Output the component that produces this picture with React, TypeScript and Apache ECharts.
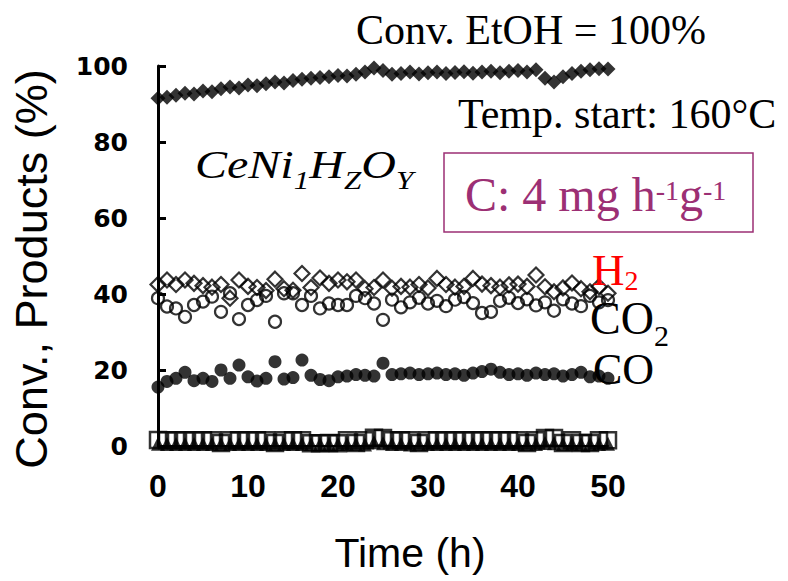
import React, { useEffect, useRef } from "react";
import * as echarts from "echarts";

// Time on stream (h)
const hours = [
  0, 1, 2, 3, 4, 5, 6, 7, 8, 9, 10, 11, 12, 13, 14, 15, 16, 17, 18, 19, 20,
  21, 22, 23, 24, 25, 26, 27, 28, 29, 30, 31, 32, 33, 34, 35, 36, 37, 38, 39,
  40, 41, 42, 43, 44, 45, 46, 47, 48, 49, 50,
];

// Ethanol conversion (%)
const conversion = [
  91.5, 91.8, 92.3, 92.8, 92.6, 93.4, 93.2, 94.0, 94.5, 94.2, 95.0, 94.8, 95.3,
  95.8, 95.5, 96.2, 96.5, 96.8, 97.0, 97.2, 97.5, 97.4, 97.8, 98.4, 99.5, 98.8,
  97.8, 98.0, 98.4, 97.9, 98.2, 98.4, 98.0, 98.3, 98.5, 98.1, 98.4, 98.6, 98.2,
  98.6, 98.8, 98.4, 99.0, 96.8, 95.8, 97.2, 98.0, 98.6, 99.0, 99.3, 99.2,
];

// H2 in products (%)
const h2 = [
  42.5, 43.7, 42.5, 43.7, 42.8, 42.2, 41.8, 42.5, 38.9, 43.7, 42.0, 41.7, 40.9,
  43.9, 41.4, 41.0, 45.4, 41.7, 44.2, 42.8, 43.7, 43.2, 43.7, 41.4, 41.7, 43.7,
  41.5, 42.0, 41.8, 42.5, 41.6, 44.1, 42.5, 41.8, 42.0, 44.1, 42.6, 42.2, 41.8,
  42.4, 42.6, 42.0, 45.0, 41.9, 40.6, 41.6, 42.9, 41.4, 40.6, 41.9, 40.2,
];

// CO2 in products (%)
const co2 = [
  38.9, 36.7, 36.2, 34.0, 37.1, 38.0, 39.3, 35.3, 40.2, 33.4, 37.1, 38.4, 39.5,
  32.7, 40.2, 40.2, 37.1, 39.5, 36.2, 37.5, 37.1, 37.1, 39.5, 38.9, 37.5, 33.2,
  38.5, 36.5, 37.8, 39.0, 37.5, 38.2, 36.8, 38.5, 39.2, 37.6, 35.0, 35.3, 38.2,
  39.0, 37.6, 38.6, 37.0, 37.8, 35.6, 38.6, 37.5, 36.8, 39.5, 37.8, 38.4,
];

// CO in products (%)
const co = [
  15.5, 17.0, 17.8, 19.4, 17.2, 17.8, 17.0, 20.0, 17.8, 21.3, 18.2, 17.1, 17.8,
  22.2, 17.6, 18.0, 22.6, 18.6, 17.5, 17.2, 18.2, 18.4, 18.8, 18.6, 18.4, 21.8,
  18.8, 19.0, 19.2, 18.8, 19.0, 19.2, 18.8, 19.0, 18.6, 19.2, 19.6, 20.2, 19.4,
  18.8, 19.0, 18.6, 19.2, 18.8, 19.0, 18.4, 18.8, 19.4, 18.2, 18.4, 17.8,
];

// Minor products near zero (%)
const minorA = [
  1.6, 1.5, 1.5, 1.5, 1.5, 1.5, 1.5, 0.8, 1.5, 1.5, 1.5, 1.5, 1.5, 0.8, 1.5,
  1.5, 1.5, 0.7, 0.7, 0.8, 0.7, 1.5, 0.8, 1.5, 2.2, 2.1, 1.5, 1.5, 1.5, 0.8,
  1.5, 1.5, 1.5, 1.5, 1.5, 1.5, 1.5, 1.5, 1.5, 1.5, 1.5, 0.8, 1.5, 2.1, 2.1,
  0.8, 1.5, 0.8, 0.8, 1.5, 1.5,
];
const minorB = [
  0.6, 0.5, 0.5, 0.5, 0.5, 0.5, 0.5, 0.5, 0.5, 0.5, 0.5, 0.5, 0.5, 0.5, 0.5,
  0.5, 0.5, 0.5, 0.5, 0.5, 0.5, 0.5, 0.5, 0.4, 1.0, 0.7, 0.5, 0.5, 0.4, 0.5,
  0.5, 0.5, 0.5, 0.5, 0.5, 0.5, 0.5, 0.5, 0.5, 0.5, 0.5, 0.5, 0.5, 0.8, 0.7,
  0.5, 0.5, 0.5, 0.5, 0.5, 0.6,
];

const SERIF = "'Times New Roman', 'Liberation Serif', serif";
const SANS = "Arial, 'Liberation Sans', sans-serif";
const PURPLE = "#9c2f74";

const pairs = (ys: number[]) => hours.map((t, i) => [t, ys[i]]);

export default function App() {
  const ref = useRef<HTMLDivElement>(null);

  useEffect(() => {
    if (!ref.current) return;
    const chart = echarts.init(ref.current, undefined, { renderer: "svg" });

    const open = { color: "none", borderColor: "#000", borderWidth: 2.2 };

    chart.setOption({
      animation: false,
      backgroundColor: "#fff",
      grid: { left: 158, top: 66, width: 450, height: 380 },
      xAxis: {
        type: "value",
        min: 0,
        max: 50,
        interval: 10,
        name: "Time (h)",
        nameLocation: "middle",
        nameGap: 86,
        nameTextStyle: {
          fontFamily: SANS,
          fontSize: 41,
          color: "#000",
          padding: [0, 0, 0, 54],
        },
        axisLine: { show: true, lineStyle: { color: "#000", width: 2 } },
        axisTick: { show: false },
        splitLine: { show: false },
        axisLabel: {
          margin: 24,
          fontFamily: SANS,
          fontWeight: "bold",
          fontSize: 32,
          color: "#000",
        },
      },
      yAxis: {
        type: "value",
        min: 0,
        max: 100,
        interval: 20,
        name: "Conv., Products (%)",
        nameLocation: "middle",
        nameGap: 104,
        nameTextStyle: {
          fontFamily: SANS,
          fontSize: 45,
          color: "#000",
          padding: [0, 26, 0, 0],
        },
        axisLine: { show: true, lineStyle: { color: "#000", width: 3 } },
        axisTick: {
          show: true,
          inside: true,
          length: 8,
          lineStyle: { color: "#000", width: 3 },
        },
        splitLine: { show: false },
        axisLabel: {
          margin: 30,
          fontFamily: "'DejaVu Sans', sans-serif",
          fontWeight: "bold",
          fontSize: 25,
          color: "#000",
        },
      },
      series: [
        {
          name: "Conv. EtOH",
          type: "scatter",
          symbol: "diamond",
          symbolSize: 15,
          itemStyle: { color: "#000" },
          data: pairs(conversion),
        },
        {
          name: "H2",
          type: "scatter",
          symbol: "diamond",
          symbolSize: 15,
          itemStyle: open,
          data: pairs(h2),
        },
        {
          name: "CO2",
          type: "scatter",
          symbol: "circle",
          symbolSize: 12,
          itemStyle: open,
          data: pairs(co2),
        },
        {
          name: "CO",
          type: "scatter",
          symbol: "circle",
          symbolSize: 13,
          itemStyle: { color: "#000" },
          data: pairs(co),
        },
        {
          name: "minor A",
          type: "scatter",
          symbol: "rect",
          symbolSize: 16,
          itemStyle: { color: "none", borderColor: "#000", borderWidth: 2.5 },
          data: pairs(minorA),
        },
        {
          name: "minor B",
          type: "scatter",
          symbol: "triangle",
          symbolSize: 14,
          itemStyle: { color: "#000" },
          data: pairs(minorB),
        },
      ],
      graphic: {
        elements: [
          {
            type: "text",
            x: 356,
            y: 30,
            z: 10,
            style: {
              text: "Conv. EtOH = 100%",
              fontFamily: SERIF,
              fontSize: 42,
              fill: "#000",
              align: "left",
              verticalAlign: "middle",
            },
          },
          {
            type: "text",
            x: 458,
            y: 114,
            z: 10,
            style: {
              text: "Temp. start: 160°C",
              fontFamily: SERIF,
              fontSize: 42,
              fill: "#000",
              align: "left",
              verticalAlign: "middle",
            },
          },
          {
            type: "text",
            x: 195,
            y: 165,
            z: 10,
            scaleX: 1.2,
            style: {
              text: "{m|CeNi}{s|1}{m|H}{s|Z}{m|O}{s|Y}",
              align: "left",
              verticalAlign: "middle",
              rich: {
                m: {
                  fontFamily: SERIF,
                  fontStyle: "italic",
                  fontSize: 40,
                  fill: "#000",
                },
                s: {
                  fontFamily: SERIF,
                  fontStyle: "italic",
                  fontSize: 26,
                  fill: "#000",
                  padding: [29, 0, 0, 0],
                },
              },
            },
          },
          {
            type: "rect",
            z: 10,
            shape: { x: 444, y: 153, width: 309, height: 79 },
            style: { fill: "#fff", stroke: PURPLE, lineWidth: 1.5 },
          },
          {
            type: "text",
            x: 465,
            y: 194,
            z: 11,
            style: {
              text: "{m|C: 4 mg h}{s|-1}{m|g}{s|-1}",
              align: "left",
              verticalAlign: "middle",
              rich: {
                m: { fontFamily: SERIF, fontSize: 48, fill: PURPLE },
                s: {
                  fontFamily: SERIF,
                  fontSize: 28,
                  fill: PURPLE,
                  padding: [0, 0, 8, 0],
                },
              },
            },
          },
          {
            type: "text",
            x: 592,
            y: 270,
            z: 10,
            style: {
              text: "{m|H}{s|2}",
              align: "left",
              verticalAlign: "middle",
              rich: {
                m: { fontFamily: SERIF, fontSize: 45, fill: "#ff0000" },
                s: {
                  fontFamily: SERIF,
                  fontSize: 28,
                  fill: "#ff0000",
                  padding: [20, 0, 0, 0],
                },
              },
            },
          },
          {
            type: "text",
            x: 590,
            y: 318,
            z: 10,
            style: {
              text: "{m|CO}{s|2}",
              align: "left",
              verticalAlign: "middle",
              rich: {
                m: { fontFamily: SERIF, fontSize: 46, fill: "#000" },
                s: {
                  fontFamily: SERIF,
                  fontSize: 30,
                  fill: "#000",
                  padding: [35, 0, 0, 0],
                },
              },
            },
          },
          {
            type: "text",
            x: 593,
            y: 369,
            z: 10,
            style: {
              text: "CO",
              fontFamily: SERIF,
              fontSize: 44,
              fill: "#000",
              align: "left",
              verticalAlign: "middle",
            },
          },
        ],
      },
    });

    return () => chart.dispose();
  }, []);

  return (
    <div
      ref={ref}
      style={{ position: "fixed", left: 0, top: 0, width: 788, height: 581 }}
    />
  );
}
